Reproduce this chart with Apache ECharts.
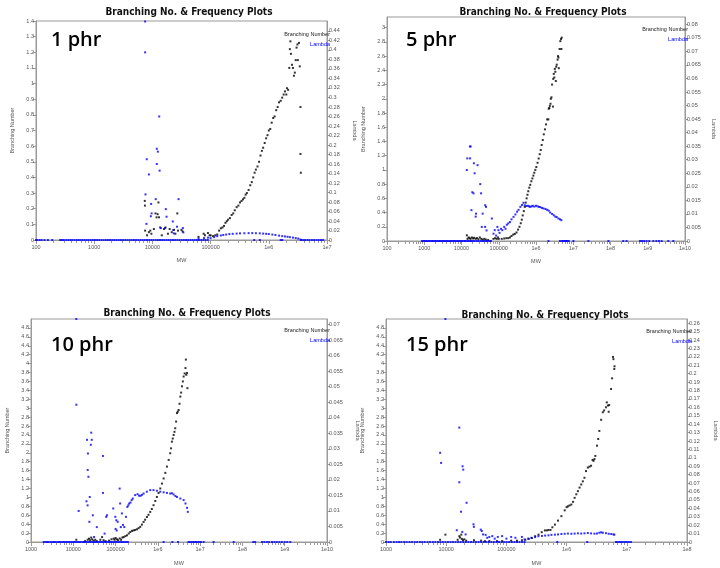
<!DOCTYPE html>
<html>
<head>
<meta charset="utf-8">
<script src="https://cdn.jsdelivr.net/npm/echarts@6/dist/echarts.min.js"></script>
<style>
  html, body { margin: 0; padding: 0; background: #fff; }
  #chart { width: 720px; height: 568px; }
</style>
</head>
<body>
<div id="chart"></div>
<script>
// ---- data: [MW, value] ----
// 1 phr
const bn1 = [
  [7400,0.25],[7450,0.22],[7500,0.06],[8100,0.03],[8700,0.05],[9200,0.06],[9600,0.04],[10600,0.07],
  [11300,0.17],[11800,0.145],[12300,0.165],[12700,0.24],[13000,0.145],[13600,0.08],[14500,0.03],
  [15800,0.07],[16800,0.08],[18500,0.04],[19800,0.07],[21500,0.05],[23500,0.065],[24800,0.04],
  [26800,0.17],[27500,0.06],[31500,0.065],[33000,0.055],
  [62000,0.02],[76000,0.04],[80000,0.03],[90000,0.045],[96000,0.03],
  [100000,0.03],[110000,0.025],[120000,0.03],[130000,0.035],[140000,0.06],[150000,0.075],[160000,0.08],
  [170000,0.09],[180000,0.11],[190000,0.12],[200000,0.13],[215000,0.14],[230000,0.16],[245000,0.17],
  [260000,0.19],[280000,0.21],[300000,0.22],[320000,0.24],[340000,0.25],[360000,0.26],[380000,0.27],
  [400000,0.29],[420000,0.30],[450000,0.32],[480000,0.35],[510000,0.37],[540000,0.40],[570000,0.43],
  [600000,0.45],[640000,0.47],[680000,0.50],[720000,0.54],[760000,0.57],[800000,0.59],[850000,0.62],
  [900000,0.65],[950000,0.67],[1000000,0.70],[1060000,0.71],[1120000,0.75],[1190000,0.78],[1260000,0.79],
  [1340000,0.83],[1420000,0.85],[1500000,0.88],[1600000,0.89],[1700000,0.91],[1800000,0.93],[1900000,0.95],
  [2000000,0.93],[2050000,0.97],[2150000,0.96],[2250000,1.10],[2300000,1.22],[2350000,1.27],[2400000,1.19],
  [2500000,1.12],[2600000,1.10],[2700000,1.05],[2800000,1.07],[2900000,1.15],[3000000,1.23],[3100000,1.25],
  [3150000,1.15],[3300000,1.26],[3400000,1.11],[3500000,0.85],[3500000,0.55],[3550000,0.43]
];
const lam1 = [
  [7500,0.46],[7500,0.395],[7600,0.096],[8000,0.17],[8700,0.138],[7900,0.034],[9500,0.076],[9700,0.056],
  [9400,0.05],[11400,0.086],[11900,0.192],[12400,0.186],[11900,0.16],[13100,0.26],[13300,0.146],[14000,0.025],
  [17000,0.065],[17500,0.049],[16500,0.025],[22400,0.039],[22800,0.021],[23300,0.014],[28100,0.086],
  [26500,0.028],[33400,0.025],[34000,0.016],[62000,0.003],[77000,0.004],[90000,0.005],
  [100000,0.004],[115000,0.006],[130000,0.008],[150000,0.0095],[165000,0.0105],[185000,0.0115],
  [210000,0.0125],[240000,0.013],[280000,0.0135],[320000,0.014],[380000,0.0142],[450000,0.0145],
  [520000,0.0145],[600000,0.0143],[700000,0.014],[800000,0.0135],[900000,0.013],[1000000,0.0125],
  [1150000,0.0115],[1300000,0.0105],[1500000,0.0092],[1700000,0.0082],[1900000,0.0075],[2100000,0.0068],
  [2300000,0.006],[2600000,0.005],[2900000,0.004],[3200000,0.003],[3500000,0.001]
];
const zero1 = [100,105,115,125,140,160,190,260,280,300,330,360,390,420,460,500,540,580,630,680,740,800,870,950,
  1030,1120,1220,1330,1450,1580,1720,1870,2040,2220,2420,2640,2880,3140,3420,3730,4060,4420,4820,5250,5720,
  6230,6790,7400,8060,8780,9570,10400,11400,12400,13500,14700,16000,17500,19000,20700,22600,24600,26800,
  29200,31800,34700,37800,41200,44900,48900,53300,58100,63300,69000,75200,82000,89300,560000,700000,
  1600000,1700000,3600000,3900000,4200000,4600000,5000000,5500000,6000000,6600000,7200000,7900000,8600000];

// 5 phr
const bn2 = [
  [13900,0.08],[14500,0.03],[15500,0.05],[16500,0.04],[17500,0.03],[19000,0.05],[20500,0.035],[22000,0.045],
  [24000,0.03],[26000,0.04],[28500,0.025],[31000,0.05],[34000,0.03],[37000,0.02],[41000,0.03],[45000,0.02],
  [52000,0.015],[72000,0.03],[80000,0.04],[88000,0.03],[95000,0.05],
  [100000,0.03],[120000,0.03],[140000,0.035],[160000,0.04],[180000,0.04],[200000,0.05],[220000,0.07],
  [245000,0.09],[270000,0.1],[300000,0.12],[330000,0.16],[360000,0.2],[390000,0.25],[415000,0.3],
  [440000,0.36],[470000,0.42],[500000,0.48],[530000,0.54],[560000,0.6],[590000,0.65],[620000,0.7],
  [660000,0.75],[700000,0.79],[750000,0.84],[800000,0.88],[850000,0.92],[900000,0.96],[960000,1.0],
  [1020000,1.04],[1100000,1.1],[1180000,1.16],[1260000,1.22],[1340000,1.28],[1420000,1.35],[1520000,1.42],
  [1620000,1.5],[1740000,1.57],[1860000,1.64],[2000000,1.71],[2140000,1.71],[2200000,1.86],[2270000,1.87],
  [2350000,1.90],[2450000,1.93],[2500000,2.0],[2600000,2.02],[2700000,2.2],[2850000,1.89],[2900000,2.28],
  [3000000,2.35],[3100000,2.30],[3200000,2.42],[3300000,2.38],[3400000,2.25],[3500000,2.45],[3600000,2.48],
  [3800000,2.55],[3900000,2.60],[4000000,2.58],[4100000,2.43],[4300000,2.70],[4500000,2.81],[4700000,2.84],
  [4900000,2.86],[4800000,2.70]
];
const lam2 = [
  [13900,0.0262],[14300,0.0305],[16800,0.0349],[17600,0.0349],[17000,0.0305],[18500,0.0114],[19500,0.018],
  [21500,0.0287],[21000,0.0176],[22500,0.025],[24000,0.009],[24500,0.0101],[27000,0.028],[31800,0.021],
  [33500,0.0176],[35000,0.0052],[37000,0.0101],[43300,0.0132],[45500,0.0126],[43000,0.0052],[47000,0.0039],
  [65300,0.0083],[72400,0.0027],[78000,0.004],[85000,0.002],[92000,0.0052],[98000,0.004],[105000,0.003],
  [115000,0.0045],[125000,0.004],[140000,0.0052],[152000,0.0045],[165000,0.006],[180000,0.0065],
  [200000,0.007],[220000,0.008],[249000,0.0089],[280000,0.0098],[310000,0.0108],[340000,0.0115],
  [380000,0.0126],[420000,0.0133],[460000,0.0141],[500000,0.0132],[550000,0.0129],[600000,0.013],
  [650000,0.0128],[700000,0.0126],[760000,0.0128],[820000,0.013],[900000,0.0127],[1000000,0.013],
  [1100000,0.0128],[1200000,0.0126],[1300000,0.0125],[1450000,0.0122],[1600000,0.012],[1800000,0.0118],
  [2000000,0.0115],[2200000,0.0112],[2400000,0.0105],[2700000,0.01],[3000000,0.0095],[3300000,0.009],
  [3600000,0.0088],[4000000,0.0083],[4400000,0.008],[4800000,0.0077]
];
const zero2 = [870,950,1030,1120,1220,1330,1450,1580,1720,1870,2040,2220,2420,2640,2880,3140,3420,3730,4060,
  4420,4820,5250,5720,6230,6790,7400,8060,8780,9570,10400,11400,12400,13500,15000,16500,18000,20000,22000,
  25000,28000,32000,36000,40000,45000,50000,56000,62000,2160000,4400000,5000000,5400000,5800000,6200000,
  6600000,7000000,7600000,10100000,25500000,88000000,220000000,270000000,620000000,700000000,800000000,
  930000000,1100000000,1410000000,1700000000,2000000000,2360000000,3560000000,4850000000];

// 10 phr
const bn3 = [
  [11800,0.05],[19000,0.02],[21900,0.05],[23500,0.075],[25000,0.04],[26500,0.1],[28000,0.06],[30000,0.03],
  [33000,0.05],[36000,0.02],[43600,0.05],[48000,0.11],[52000,0.04],[58000,0.02],[70000,0.03],[80000,0.06],
  [90000,0.075],[95000,0.05],[100000,0.09],[108000,0.06],[115000,0.04],[125000,0.08],[135000,0.05],
  [145000,0.1],[155000,0.11],[170000,0.13],[186000,0.15],[205000,0.19],[223000,0.225],[245000,0.25],
  [267000,0.26],[290000,0.27],[320000,0.285],[350000,0.31],[383000,0.34],[420000,0.39],[460000,0.45],
  [500000,0.5],[552000,0.56],[600000,0.61],[660000,0.675],[720000,0.74],[790000,0.825],[870000,0.92],
  [950000,1.01],[1040000,1.1],[1140000,1.2],[1250000,1.31],[1370000,1.425],[1500000,1.55],[1640000,1.69],
  [1800000,1.84],[1960000,1.99],[2050000,2.1],[2150000,2.25],[2250000,2.32],[2360000,2.4],[2470000,2.47],
  [2580000,2.55],[2700000,2.7],[2830000,2.89],[2950000,2.92],[3100000,2.96],[3250000,3.1],[3400000,3.26],
  [3550000,3.35],[3720000,3.49],[3900000,3.6],[4070000,3.71],[4300000,3.78],[4500000,3.9],[4600000,4.09],
  [4700000,3.75],[4900000,3.79],[5000000,3.45]
];
const lam3 = [
  [11800,0.0718],[11800,0.0442],[13400,0.01],[21100,0.0329],[22200,0.0285],[21900,0.0232],[22800,0.021],
  [20500,0.0131],[21800,0.0118],[24500,0.0145],[24000,0.0065],[26000,0.0313],[26600,0.0352],[27300,0.0329],
  [29000,0.0086],[31000,0.0016],[36000,0.0048],[50300,0.0277],[50300,0.0158],[55000,0.0027],[60000,0.0081],
  [62800,0.0086],[88000,0.0108],[98600,0.0081],[100000,0.0042],[104000,0.007],[106000,0.0037],
  [112000,0.0065],[125000,0.0172],[128000,0.0124],[133000,0.0048],[141000,0.0092],[150000,0.0055],
  [161000,0.0048],[176000,0.0081],[190000,0.0113],[200000,0.0118],[210000,0.0124],[225000,0.0127],
  [240000,0.0135],[255000,0.014],[290000,0.0151],[330000,0.0154],[360000,0.0149],[390000,0.0149],
  [420000,0.0152],[460000,0.0156],[550000,0.0162],[660000,0.0167],[790000,0.0167],[950000,0.0165],
  [1140000,0.0162],[1370000,0.016],[1640000,0.0158],[1960000,0.0156],[2150000,0.0157],[2360000,0.0153],
  [2600000,0.0148],[2830000,0.0145],[3400000,0.014],[4070000,0.0135],[4500000,0.0124],[4900000,0.011],
  [5100000,0.0097]
];
const zero3 = [2000,2200,2400,2600,2900,3200,3500,3800,4200,4600,5000,5500,6000,6600,7200,7900,8700,9500,
  10400,11400,12500,13700,15000,16500,18000,19700,21600,23700,26000,28500,31200,34200,37500,41000,45000,
  49300,54000,59200,64900,71100,77900,85400,93600,102000,112000,123000,135000,148000,162000,178000,195000,
  1370000,2200000,3000000,5300000,5700000,6200000,6800000,7400000,8000000,8800000,9600000,10500000,
  12100000,20800000,62000000,180000000,200000000,290000000,330000000,380000000,430000000,500000000,
  570000000,650000000,750000000,860000000,1000000000,1150000000,1350000000];

// 15 phr
const bn4 = [
  [7930,0.05],[9700,0.165],[15500,0.05],[16500,0.13],[17000,0.1],[17800,0.165],[18200,0.07],[19000,0.04],
  [20000,0.06],[21500,0.03],[29000,0.04],[38000,0.03],[44000,0.02],[52000,0.02],[70000,0.02],[85000,0.02],
  [120000,0.03],[150000,0.03],[181000,0.04],[206000,0.05],[235000,0.07],[265000,0.09],[300000,0.13],
  [342000,0.165],[386000,0.22],[436000,0.26],[470000,0.26],[500000,0.27],[540000,0.27],[580000,0.33],
  [640000,0.39],[720000,0.48],[820000,0.58],[930000,0.71],[1000000,0.78],[1050000,0.80],[1120000,0.82],
  [1200000,0.84],[1280000,0.9],[1360000,0.99],[1450000,1.07],[1540000,1.14],[1640000,1.22],[1750000,1.29],
  [1860000,1.36],[1980000,1.44],[2100000,1.59],[2250000,1.67],[2400000,1.69],[2550000,1.71],[2700000,1.84],
  [2800000,1.82],[2900000,1.86],[3000000,1.93],[3200000,2.16],[3350000,2.31],[3500000,2.49],[3750000,2.74],
  [4000000,2.91],[4200000,2.95],[4500000,3.02],[4650000,3.13],[4850000,3.06],[5000000,2.92],[5100000,3.07],
  [5480000,3.43],[5700000,3.67],[5900000,4.15],[6000000,4.1],[6200000,3.88],[6250000,3.94]
];
const lam4 = [
  [9700,0.265],[7930,0.106],[8220,0.094],[16500,0.136],[18700,0.09],[19200,0.086],[16500,0.071],
  [17600,0.036],[21800,0.0466],[15000,0.014],[18500,0.012],[21000,0.009],[28400,0.021],[28800,0.018],
  [37500,0.0147],[39000,0.013],[41000,0.009],[45200,0.0085],[48000,0.005],[52000,0.006],[58300,0.007],
  [64000,0.004],[72000,0.006],[84800,0.007],[100000,0.004],[120000,0.006],[141000,0.005],[181000,0.006],
  [200000,0.003],[230000,0.004],[260000,0.005],[300000,0.0058],[340000,0.0068],[390000,0.0072],
  [440000,0.0077],[500000,0.0079],[560000,0.0085],[640000,0.0087],[720000,0.009],[820000,0.0095],
  [930000,0.0098],[1050000,0.01],[1200000,0.0098],[1360000,0.01],[1540000,0.0103],[1750000,0.01],
  [1980000,0.0103],[2250000,0.0107],[2550000,0.0102],[2900000,0.0099],[3200000,0.0101],[3500000,0.011],
  [3750000,0.0115],[4000000,0.011],[4500000,0.0105],[5000000,0.0098],[5500000,0.0095],[6000000,0.009],
  [6200000,0.0087]
];
const zero4 = [1000,1100,1200,1350,1500,1650,1800,2000,2200,2450,2700,3000,3300,3650,4000,4400,4900,5400,
  6000,6600,7300,8000,8800,9700,10700,11800,13000,14300,15800,17400,19200,21200,23400,25800,28400,31300,
  34500,38100,42000,46300,51000,56300,62000,68400,75400,83200,91700,101000,111000,123000,136000,150000,
  165000,182000,200000,700000,2200000,6600000,7000000,7500000,8000000,8600000,9300000,10000000,10800000,
  11700000];

// tick labels
const phrLabels = ['1 phr', '5 phr', '10 phr', '15 phr'];
const mwTicks = [[100, 1e7], [100, 1e10], [1000, 1e10], [1000, 1e8]];      // [min, max] of each MW axis
const bnTicks = [[1.4, 0.1], [3, 0.2], [4.8, 0.2], [4.8, 0.2]];           // [last label, step]
const lamTicks = [[0.44, 0.02], [0.08, 0.005], [0.07, 0.005], [0.26, 0.01]];
const bnMax = [1.4, 3.15, 5.0, 5.0];
const lamMax = [0.461, 0.0827, 0.0718, 0.265];

// ---- layout ----
const layout = [
  { grid: { left: 36, top: 21, width: 291, height: 219 }, titleX: 184, titleY: 2, phr: [46, 25], legX: 325, legY: 26, gapL: 21, gapR: 25, gapX: 17 },
  { grid: { left: 387, top: 17, width: 298, height: 224 }, titleX: 538, titleY: 2, phr: [401, 25], legX: 683, legY: 21, gapL: 21, gapR: 26, gapX: 17 },
  { grid: { left: 31, top: 319, width: 296, height: 223 }, titleX: 182, titleY: 303, phr: [46, 330], legX: 325, legY: 322, gapL: 21, gapR: 28, gapX: 18 },
  { grid: { left: 386, top: 319, width: 304, height: 223 }, titleX: 540, titleY: 305, phr: [401, 330], legX: 687, legY: 323, gapL: 21, gapR: 26, gapX: 18 }
];
const bnData = [bn1, bn2, bn3, bn4];
const lamData = [lam1, lam2, lam3, lam4];
const zeroData = [zero1, zero2, zero3, zero4];

const small = { fontSize: 5.5, color: '#555', fontFamily: 'Liberation Sans, Arial, sans-serif' };
const axisGray = '#9a9a9a';

function steps(last, step) {
  const out = [];
  for (let i = 0; i * step <= last + 1e-9; i++) out.push(+(i * step).toFixed(4));
  return out;
}
function decades(min, max) {
  const out = [];
  for (let v = min; v <= max * 1.0001; v *= 10) out.push(v);
  return out;
}
function minors(min, max) {
  const out = [];
  for (let d = min; d < max; d *= 10) for (let k = 2; k <= 9; k++) out.push(d * k);
  return out;
}
const fmtMW = v => (v >= 1e6 ? '1e' + Math.round(Math.log10(v)) : String(Math.round(v)));
const fmtNum = v => String(+(+v).toFixed(4));

const grid = [], xAxis = [], yAxis = [], series = [], title = [];

layout.forEach((L, i) => {
  const [xmin, xmax] = mwTicks[i];
  grid.push(Object.assign({ show: true, borderColor: axisGray, borderWidth: 1, backgroundColor: '#fff' }, L.grid));

  const majors = decades(xmin, xmax);
  xAxis.push({
    type: 'log', gridIndex: i, min: xmin, max: xmax, position: 'bottom',
    name: 'MW', nameLocation: 'middle', nameGap: L.gapX, nameTextStyle: small,
    axisLine: { show: true, lineStyle: { color: axisGray } },
    axisTick: { show: true, customValues: majors, length: 4, lineStyle: { color: axisGray } },
    axisLabel: { customValues: majors, formatter: fmtMW, margin: 4, ...small },
    splitLine: { show: false }, minorTick: { show: false }
  });
  xAxis.push({
    type: 'log', gridIndex: i, min: xmin, max: xmax, position: 'bottom',
    axisLine: { show: false },
    axisTick: { show: true, customValues: minors(xmin, xmax), length: 3, lineStyle: { color: axisGray } },
    axisLabel: { show: false }, splitLine: { show: false }
  });

  const lt = steps(bnTicks[i][0], bnTicks[i][1]);
  const rt = steps(lamTicks[i][0], lamTicks[i][1]);
  yAxis.push({
    type: 'value', gridIndex: i, min: 0, max: bnMax[i], position: 'left',
    name: 'Branching Number', nameLocation: 'middle', nameGap: L.gapL, nameTextStyle: small,
    axisLine: { show: true, lineStyle: { color: axisGray } },
    axisTick: { show: true, customValues: lt, length: 3, lineStyle: { color: axisGray } },
    axisLabel: { customValues: lt, formatter: fmtNum, margin: 2, ...small },
    splitLine: { show: false }
  });
  yAxis.push({
    type: 'value', gridIndex: i, min: 0, max: lamMax[i], position: 'right',
    name: 'Lambda', nameLocation: 'middle', nameGap: L.gapR, nameRotate: -90, nameTextStyle: small,
    axisLine: { show: true, lineStyle: { color: axisGray } },
    axisTick: { show: true, customValues: rt, length: 3, lineStyle: { color: axisGray } },
    axisLabel: { customValues: rt, formatter: fmtNum, margin: 2, ...small },
    splitLine: { show: false }
  });

  series.push({
    name: 'Branching Number', type: 'scatter', xAxisIndex: 2 * i, yAxisIndex: 2 * i,
    data: bnData[i], symbol: 'rect', symbolSize: 2, itemStyle: { color: '#000' }, silent: true
  });
  series.push({
    name: 'Lambda', type: 'scatter', xAxisIndex: 2 * i, yAxisIndex: 2 * i + 1,
    data: zeroData[i].map(m => [m, 0]).concat(lamData[i]),
    symbol: 'rect', symbolSize: 2, itemStyle: { color: '#0000ff' }, silent: true
  });

  title.push({
    text: 'Branching No. & Frequency Plots', left: L.titleX, top: L.titleY, textAlign: 'center',
    textStyle: { fontSize: 10, fontWeight: 'bold', color: '#111', fontFamily: 'DejaVu Sans Condensed, Liberation Sans Narrow, sans-serif' }
  });
  title.push({
    text: phrLabels[i], left: L.phr[0], top: L.phr[1],
    textStyle: { fontSize: 20, fontWeight: 600, color: '#000', fontFamily: 'Open Sans, sans-serif' }
  });
  title.push({
    text: 'Branching Number', left: L.legX, top: L.legY, textAlign: 'right',
    textStyle: { fontSize: 5.5, fontWeight: 'normal', color: '#222', fontFamily: 'Liberation Sans, Arial, sans-serif' }
  });
  title.push({
    text: 'Lambda', left: L.legX, top: L.legY + 10, textAlign: 'right',
    textStyle: { fontSize: 5.5, fontWeight: 'normal', color: '#0000ff', fontFamily: 'Liberation Sans, Arial, sans-serif' }
  });
});

const chart = echarts.init(document.getElementById('chart'), null, { renderer: 'canvas' });
chart.setOption({
  animation: false,
  backgroundColor: '#fff',
  title, grid, xAxis, yAxis, series
});
</script>
</body>
</html>
